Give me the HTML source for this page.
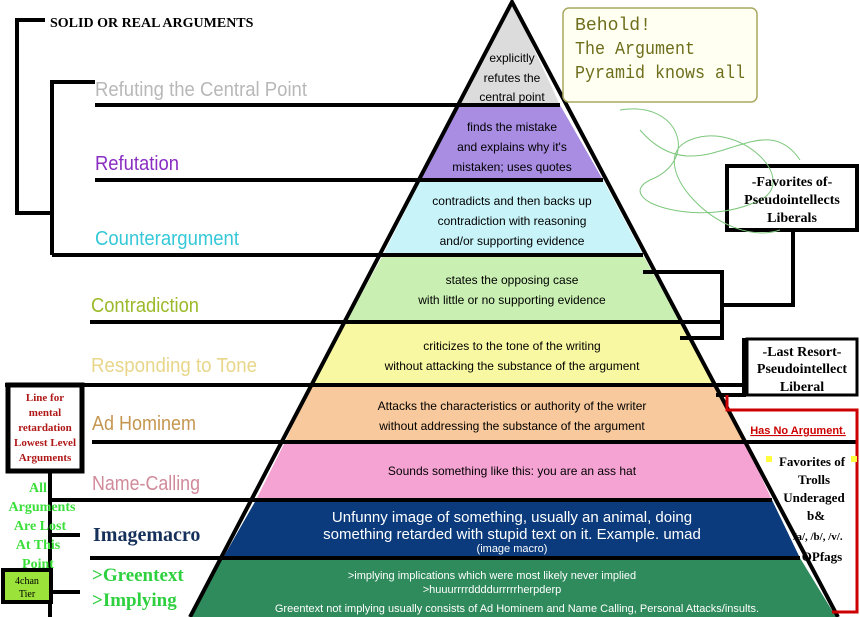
<!DOCTYPE html>
<html><head><meta charset="utf-8"><style>
html,body{margin:0;padding:0;background:#fff;}
svg{display:block;}
</style></head><body>
<svg width="860" height="617" viewBox="0 0 860 617" xmlns="http://www.w3.org/2000/svg" font-family="Liberation Sans, DejaVu Sans, sans-serif">
<rect width="860" height="617" fill="#fff"/>
<polygon points="512,2 560,105 460,105" fill="#dcdcdc"/>
<polygon points="460,105 560,105 603,180 421,180" fill="#a88de2"/>
<polygon points="421,180 603,180 643,255 383,255" fill="#c8f3f8"/>
<polygon points="383,255 643,255 680,322 346,322" fill="#c9f0b2"/>
<polygon points="346,322 680,322 716,385 311,385" fill="#f8f8a2"/>
<polygon points="311,385 716,385 745,442 285,442" fill="#f8c99c"/>
<polygon points="285,442 745,442 772,500 256,500" fill="#f5a3d3"/>
<polygon points="256,500 772,500 800,558 223,558" fill="#0b3b7c"/>
<polygon points="223,558 800,558 836,617 190,617" fill="#2f8a5c"/>
<g stroke="#000" stroke-width="4" fill="none">
<polyline points="190,617 512,2 838,617"/>
<line x1="95" y1="105" x2="560" y2="105"/>
<line x1="95" y1="180" x2="603" y2="180"/>
<line x1="52" y1="255" x2="643" y2="255"/>
<line x1="90" y1="322" x2="722" y2="322"/>
<line x1="5" y1="385" x2="745" y2="385"/>
<line x1="92" y1="442" x2="745" y2="442"/>
<line x1="50" y1="500" x2="772" y2="500"/>
<line x1="90" y1="558" x2="800" y2="558"/>
<polyline points="45,20 17,20 17,213 52,213"/>
<polyline points="95,82 52,82 52,255"/>
<line x1="643" y1="272" x2="722" y2="272"/>
<polyline points="722,270 722,338 680,338"/>
<polyline points="722,305 793,305 793,230"/>
<polyline points="716,395 744,395 744,338"/>
<line x1="745" y1="442" x2="857" y2="442"/>
<line x1="50" y1="470" x2="50" y2="570"/>
<line x1="50" y1="535" x2="80" y2="535"/>
<line x1="50" y1="592" x2="80" y2="592"/>
<line x1="50" y1="600" x2="50" y2="617"/>
</g>
<polyline points="727,395 727,410 857,410 857,612 832,612" stroke="#c00" stroke-width="3" fill="none"/>
<rect x="727" y="166" width="130" height="64" fill="#fff" stroke="#000" stroke-width="4"/>
<rect x="747" y="339" width="110" height="56" fill="#fff" stroke="#000" stroke-width="3"/>
<rect x="8" y="385" width="74" height="86" fill="#fff" stroke="#000" stroke-width="5"/>
<rect x="3" y="570" width="48" height="32" fill="#9be33a" stroke="#000" stroke-width="4"/>
<rect x="563" y="8" width="194" height="94" rx="6" fill="#fffff2" stroke="#a8a860" stroke-width="1.5"/>
<path d="M620,110 C680,100 700,160 650,180 C610,200 700,230 760,200 C800,180 740,120 690,140 C640,160 720,250 780,230 M640,130 C700,200 760,100 800,160" stroke="#7dc77d" stroke-width="1" fill="none"/>
<text x="50" y="27" font-family="Liberation Serif" font-weight="bold" font-size="14">SOLID OR REAL ARGUMENTS</text>
<g font-family="Liberation Sans" font-size="20">
<text x="95" y="96" fill="#b8b8b8" textLength="212" lengthAdjust="spacingAndGlyphs">Refuting the Central Point</text>
<text x="95" y="170" fill="#8a2ec2" textLength="84" lengthAdjust="spacingAndGlyphs">Refutation</text>
<text x="95" y="245" fill="#35c8d8" textLength="144" lengthAdjust="spacingAndGlyphs">Counterargument</text>
<text x="91" y="312" fill="#9aba2a" textLength="108" lengthAdjust="spacingAndGlyphs">Contradiction</text>
<text x="91" y="372" fill="#e8d68a" textLength="166" lengthAdjust="spacingAndGlyphs">Responding to Tone</text>
<text x="92" y="430" fill="#c49650" textLength="104" lengthAdjust="spacingAndGlyphs">Ad Hominem</text>
<text x="92" y="490" fill="#d08a9a" textLength="108" lengthAdjust="spacingAndGlyphs">Name-Calling</text>
</g>
<text x="93" y="541" font-family="Liberation Serif" font-weight="bold" font-size="20" fill="#15305a">Imagemacro</text>
<text x="92" y="581" font-family="Liberation Serif" font-weight="bold" font-size="19" fill="#2fd040">&gt;Greentext</text>
<text x="92" y="606" font-family="Liberation Serif" font-weight="bold" font-size="19" fill="#2fd040">&gt;Implying</text>
<g font-size="12" text-anchor="middle" fill="#000">
<text x="512" y="62">explicitly</text><text x="512" y="82">refutes the</text><text x="512" y="101">central point</text>
<text x="512" y="131">finds the mistake</text><text x="512" y="151">and explains why it's</text><text x="512" y="171">mistaken; uses quotes</text>
<text x="512" y="205">contradicts and then backs up</text><text x="512" y="225">contradiction with reasoning</text><text x="512" y="245">and/or supporting evidence</text>
<text x="512" y="284">states the opposing case</text><text x="512" y="304">with little or no supporting evidence</text>
<text x="512" y="350">criticizes to the tone of the writing</text><text x="512" y="370">without attacking the substance of the argument</text>
<text x="512" y="410">Attacks the  characteristics or authority of the writer</text><text x="512" y="430">without addressing the substance of the argument</text>
<text x="512" y="475">Sounds something like this: you are an ass hat</text>
</g>
<g fill="#fff" text-anchor="middle">
<text x="512" y="522" font-size="15">Unfunny image of something, usually an animal, doing</text>
<text x="512" y="539" font-size="15">something retarded with stupid text on it. Example. umad</text>
<text x="512" y="552" font-size="11">(image macro)</text>
<text x="492" y="579" font-size="11">&gt;implying implications which were most likely never implied</text>
<text x="492" y="593" font-size="11">&gt;huuurrrrddddurrrrrherpderp</text>
<text x="517" y="612" font-size="11">Greentext not implying usually consists of Ad Hominem and Name Calling, Personal Attacks/insults.</text>
</g>
<g font-family="Liberation Mono, DejaVu Sans Mono, monospace" font-size="18" fill="#6e6e1c">
<text x="575" y="30" textLength="76" lengthAdjust="spacingAndGlyphs">Behold!</text>
<text x="575" y="54" textLength="120" lengthAdjust="spacingAndGlyphs">The Argument</text>
<text x="575" y="78" textLength="170" lengthAdjust="spacingAndGlyphs">Pyramid knows all</text>
</g>
<g font-family="Liberation Serif" font-weight="bold" font-size="14" text-anchor="middle">
<text x="792" y="186">-Favorites of-</text><text x="792" y="204">Pseudointellects</text><text x="792" y="222">Liberals</text>
<text x="802" y="356">-Last Resort-</text><text x="802" y="373">Pseudointellect</text><text x="802" y="391">Liberal</text>
</g>
<g font-family="Liberation Serif" font-weight="bold" font-size="13" text-anchor="middle">
<text x="812" y="466">Favorites of</text><text x="814" y="484">Trolls</text><text x="814" y="502">Underaged</text><text x="816" y="520">b&amp;</text>
<text x="818" y="540" font-size="11">/a/, /b/, /v/.</text><text x="822" y="561">OPfags</text>
</g>
<rect x="766" y="456" width="6" height="6" fill="#ffff40"/><rect x="851" y="456" width="6" height="6" fill="#ffff40"/>
<text x="798" y="434" font-size="11" font-weight="bold" fill="#c00" text-anchor="middle" text-decoration="underline">Has No Argument.</text>
<g font-family="Liberation Serif" font-weight="bold" font-size="11" fill="#b01818" text-anchor="middle">
<text x="45" y="401">Line for</text><text x="45" y="416">mental</text><text x="45" y="431">retardation</text><text x="45" y="446">Lowest Level</text><text x="45" y="461">Arguments</text>
</g>
<g font-family="Liberation Serif" font-weight="bold" font-size="14" fill="#3adf3a" text-anchor="middle">
<text x="38" y="492">All</text><text x="42" y="511">Arguments</text><text x="40" y="530">Are Lost</text><text x="38" y="549">At This</text><text x="38" y="568">Point</text>
</g>
<g font-family="Liberation Serif" font-size="10" fill="#000" text-anchor="middle">
<text x="27" y="584">4chan</text><text x="27" y="597">Tier</text>
</g>
</svg>
</body></html>
